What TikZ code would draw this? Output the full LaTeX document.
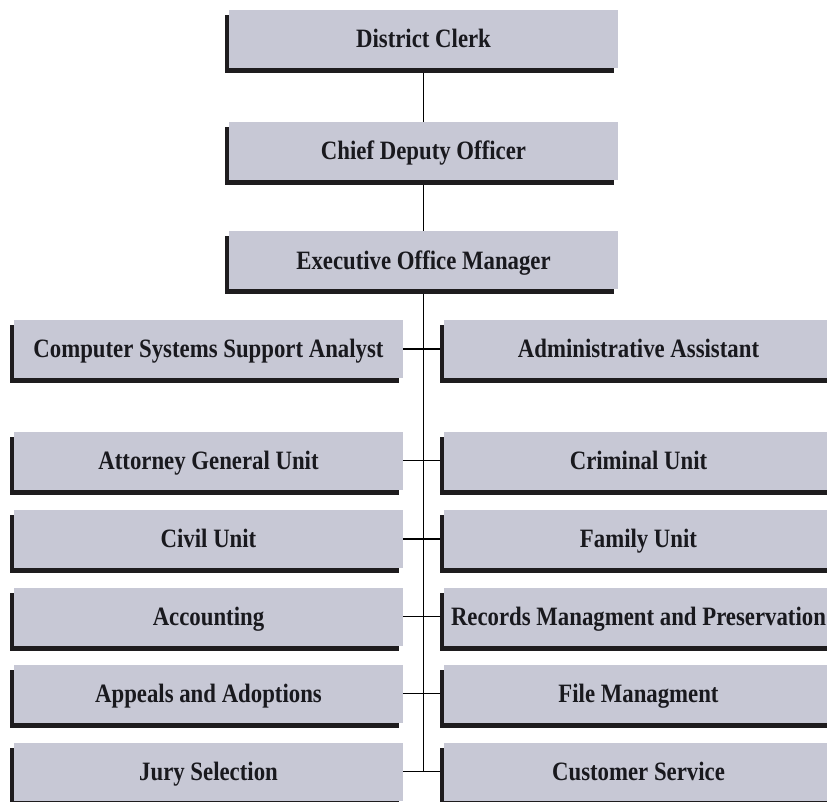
\documentclass[tikz,border=0pt]{standalone}
\usepackage{fontspec}
\newfontfamily\boxfont{Liberation Serif}[FakeStretch=0.86]
\usetikzlibrary{shadows,backgrounds}
\definecolor{boxfill}{RGB}{199,200,213}
\definecolor{shadowc}{RGB}{30,28,30}
\definecolor{txt}{RGB}{25,25,30}
\tikzset{
  orgbox/.style={rectangle, fill=boxfill, draw=none, minimum width=389pt,
    minimum height=58pt, inner sep=0pt, text=txt,
    text height=17.5pt, text depth=0pt,
    font=\boxfont\bfseries\fontsize{26.5}{30}\selectfont,
    general shadow={fill=shadowc, shadow xshift=-4pt, shadow yshift=-5pt}},
  link/.style={draw=black, line width=1.5pt}
}
\begin{document}
\begin{tikzpicture}[x=1pt,y=-1pt]
\useasboundingbox (0,0) rectangle (827,802);
\clip (0,0) rectangle (827,802);
% top column
\node[orgbox] (dc)  at (423.5,39)    {District Clerk};
\node[orgbox] (cdo) at (423.5,151)   {Chief Deputy Officer};
\node[orgbox] (eom) at (423.5,260.5) {Executive Office Manager};
% left column
\node[orgbox] (csa) at (208.5,349)   {Computer Systems Support Analyst};
\node[orgbox] (agu) at (208.5,460.5) {Attorney General Unit};
\node[orgbox] (civ) at (208.5,539)   {Civil Unit};
\node[orgbox] (acc) at (208.5,616.5) {Accounting};
\node[orgbox] (app) at (208.5,693.5) {Appeals and Adoptions};
\node[orgbox] (jur) at (208.5,771.5) {Jury Selection};
% right column
\node[orgbox] (adm) at (638.5,349)   {Administrative Assistant};
\node[orgbox] (cri) at (638.5,460.5) {Criminal Unit};
\node[orgbox] (fam) at (638.5,539)   {Family Unit};
\node[orgbox] (rec) at (638.5,616.5) {Records Managment and Preservation};
\node[orgbox] (fil) at (638.5,693.5) {File Managment};
\node[orgbox] (cus) at (638.5,771.5) {Customer Service};
\begin{scope}[on background layer]
\fill[white] (0,0) rectangle (827,802);
\draw[link] (dc.south) -- (dc.south |- jur.east);
\draw[link] (csa.east) -- (adm.west);
\draw[link] (agu.east) -- (cri.west);
\draw[link] (civ.east) -- (fam.west);
\draw[link] (acc.east) -- (rec.west);
\draw[link] (app.east) -- (fil.west);
\draw[link] (jur.east) -- (cus.west);
\end{scope}
\end{tikzpicture}
\end{document}
